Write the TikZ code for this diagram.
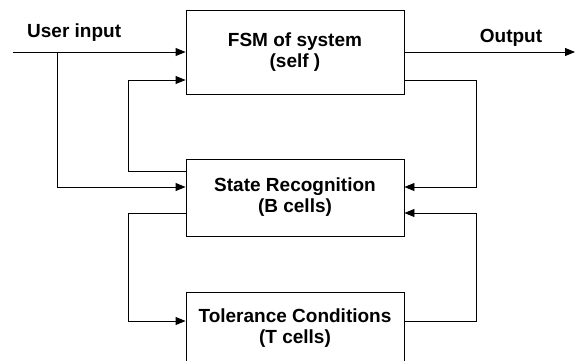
\documentclass[tikz,border=0pt]{standalone}
\usepackage{fontspec}
\setmainfont{Liberation Sans}
\usepackage{tikz}
\usetikzlibrary{arrows.meta,positioning}

\begin{document}
\begin{tikzpicture}[
  x=1bp,y=-1bp,
  every node/.style={font=\fontsize{19bp}{21bp}\selectfont\bfseries},
  block/.style={draw,line width=0.9bp,minimum width=218bp,align=center,inner sep=0pt},
  lbl/.style={inner sep=0pt},
  arr/.style={-{Triangle[length=10bp,width=8bp]},line width=0.9bp}
]
  \useasboundingbox (0,0) rectangle (576,360);
  \clip (0,0) rectangle (576,360);

  \node[block,minimum height=84bp] (fsm) at (295,52) {FSM of system\\(self )};
  \node[block,minimum height=77bp] (state) at (295,197.5) {State Recognition\\(B cells)};
  \node[block,minimum height=72bp] (tol) at (295,328) {Tolerance Conditions\\(T cells)};

  \coordinate (userin) at (13,52);
  \coordinate (split) at (57,52);
  \coordinate (out) at (575,52);

  \node[lbl,anchor=base west] (userlbl) at (27,37) {User input};
  \node[lbl,anchor=base] (outlbl) at (511,42) {Output};

  % input and output
  \draw[arr] (userin) -- (fsm.west);
  \draw[arr] (split) |- ([yshift=10.5bp]state.west);
  \draw[arr] (fsm.east) -- (out);

  % loops between fsm and state
  \draw[arr] ([yshift=26.5bp]state.west) -| ([xshift=-57bp,yshift=-28bp]fsm.west) -- ([yshift=-28bp]fsm.west);
  \draw[arr] ([yshift=-28bp]fsm.east) -| ([xshift=72bp,yshift=10.5bp]state.east) -- ([yshift=10.5bp]state.east);

  % loops between state and tol
  \draw[arr] ([yshift=-15.5bp]state.west) -| ([xshift=-57bp,yshift=7bp]tol.west) -- ([yshift=7bp]tol.west);
  \draw[arr] ([yshift=7bp]tol.east) -| ([xshift=72bp,yshift=-15.5bp]state.east) -- ([yshift=-15.5bp]state.east);
\end{tikzpicture}
\end{document}
